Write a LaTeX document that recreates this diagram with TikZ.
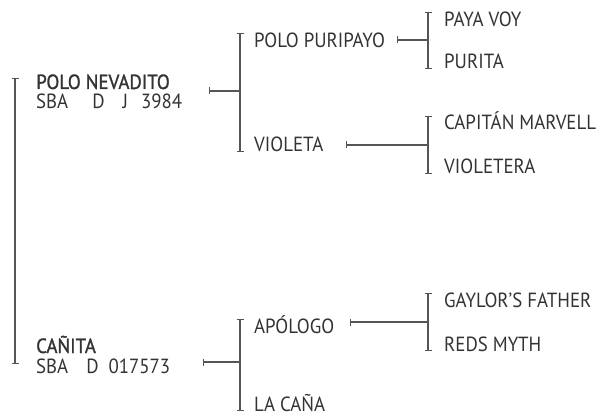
\documentclass[tikz,border=0pt]{standalone}
\usepackage{fontspec}
\setmainfont{PT Sans}[FakeStretch=0.92]
\newfontfamily\strongfont{PT Sans}[FakeStretch=0.92,FakeBold=1.3]
\usepackage{xcolor}
\usetikzlibrary{arrows.meta,positioning}
\definecolor{inkgray}{HTML}{333333}
\definecolor{rulegray}{HTML}{555555}

\begin{document}
\begin{tikzpicture}[
    x=1pt, y=-1pt,
    horse/.style={anchor=base west, inner sep=0pt, text=inkgray,
                  font=\fontsize{20.5}{24}\selectfont},
    sire/.style={horse, font=\fontsize{20.5}{24}\selectfont\strongfont},
    bracket/.style={draw=rulegray, line width=1.3pt,
                    {Bar[width=7pt]}-{Bar[width=7pt]}},
    link/.style={draw=rulegray, line width=1.3pt, {Bar[width=7pt]}-}
]
\useasboundingbox (0,0) rectangle (603,417);

% generation 1
\node[sire] (nevadito) at (36,89) {POLO NEVADITO};
\node[horse] (nevaditoreg) at (36,109) {SBA\hspace{24pt}D\hspace{18pt}J\hspace{13pt}3984};
\node[sire] (canita) at (36,353) {CAÑITA};
\node[horse] (canitareg) at (36,373) {SBA\hspace{18pt}D\hspace{10pt}017573};

\coordinate (top1) at (15,78);
\coordinate (bot1) at (15,364);
\draw[bracket] (top1) -- (bot1);

% generation 2
\node[horse] (puripayo) at (254,48) {POLO PURIPAYO};
\node[horse] (violeta) at (254,152) {VIOLETA};
\node[horse] (apologo) at (254,333) {APÓLOGO};
\node[horse] (lacana) at (254,411) {LA CAÑA};

\coordinate (top2a) at (240,33);
\coordinate (bot2a) at (240,152);
\coordinate (join2a) at (240,91);
\coordinate (from2a) at (209,91);
\draw[bracket] (top2a) -- (bot2a);
\draw[link] (from2a) -- (join2a);

\coordinate (top2b) at (240,319);
\coordinate (bot2b) at (240,411);
\coordinate (join2b) at (240,362);
\coordinate (from2b) at (203,362);
\draw[bracket] (top2b) -- (bot2b);
\draw[link] (from2b) -- (join2b);

% generation 3
\node[horse] (payavoy) at (444,27) {PAYA VOY};
\node[horse] (purita) at (444,69) {PURITA};
\node[horse] (marvell) at (444,130) {CAPITÁN MARVELL};
\node[horse] (violetera) at (444,174) {VIOLETERA};
\node[horse] (gaylor) at (444,307) {GAYLOR'S FATHER};
\node[horse] (redsmyth) at (444,351) {REDS MYTH};

\coordinate (top3a) at (428,12);
\coordinate (bot3a) at (428,69);
\coordinate (join3a) at (428,40);
\coordinate (from3a) at (397,40);
\draw[bracket] (top3a) -- (bot3a);
\draw[link] (from3a) -- (join3a);

\coordinate (top3b) at (428,116);
\coordinate (bot3b) at (428,174);
\coordinate (join3b) at (428,145);
\coordinate (from3b) at (346,145);
\draw[bracket] (top3b) -- (bot3b);
\draw[link] (from3b) -- (join3b);

\coordinate (top3c) at (428,293);
\coordinate (bot3c) at (428,351);
\coordinate (join3c) at (428,322);
\coordinate (from3c) at (350,322);
\draw[bracket] (top3c) -- (bot3c);
\draw[link] (from3c) -- (join3c);
\end{tikzpicture}
\end{document}
